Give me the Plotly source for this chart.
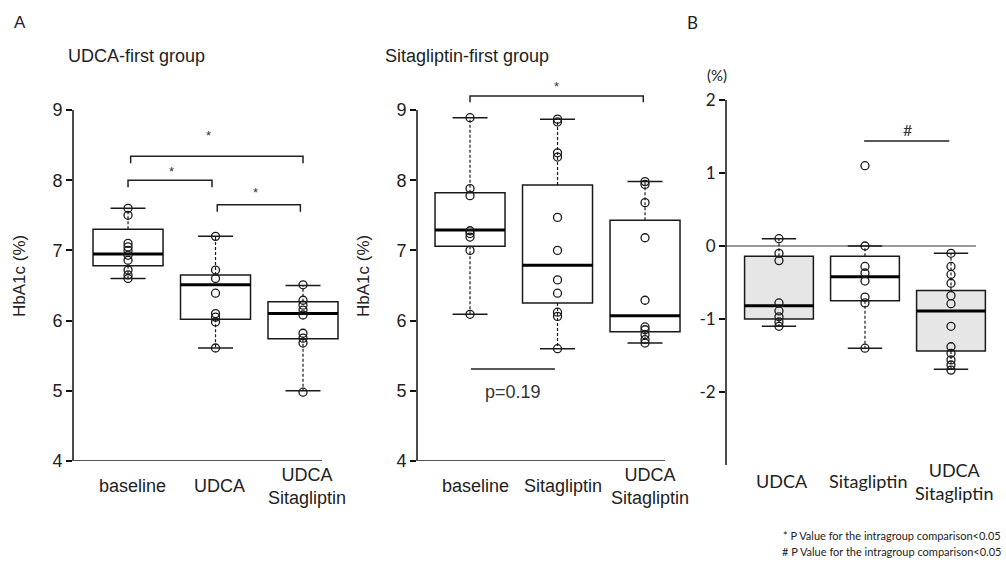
import plotly.graph_objects as go

W, H = 1006, 566

# ---------------- DATA ----------------
# Panel A, UDCA-first group (HbA1c %)
a1_cats = ["baseline", "UDCA", "UDCA<br>Sitagliptin"]
a1_q1 = [6.78, 6.02, 5.74]
a1_med = [6.95, 6.51, 6.10]
a1_q3 = [7.30, 6.65, 6.27]
a1_lo = [6.60, 5.61, 5.00]
a1_hi = [7.60, 7.20, 6.50]
a1_pts = [
    [7.60, 7.50, 7.10, 7.05, 7.00, 6.93, 6.86, 6.72, 6.65, 6.60],
    [7.20, 6.72, 6.60, 6.39, 6.10, 6.05, 5.98, 5.61],
    [6.51, 6.29, 6.22, 6.15, 6.08, 5.82, 5.75, 5.68, 4.98],
]

# Panel A, Sitagliptin-first group (HbA1c %)
a2_cats = ["baseline", "Sitagliptin", "UDCA<br>Sitagliptin"]
a2_q1 = [7.06, 6.25, 5.84]
a2_med = [7.29, 6.79, 6.07]
a2_q3 = [7.82, 7.93, 7.43]
a2_lo = [6.09, 5.60, 5.68]
a2_hi = [8.89, 8.87, 7.98]
a2_pts = [
    [8.89, 7.88, 7.78, 7.28, 7.24, 7.19, 7.00, 6.09],
    [8.87, 8.83, 8.39, 8.33, 7.47, 7.00, 6.58, 6.39, 6.12, 6.06, 5.60],
    [7.98, 7.94, 7.68, 7.18, 6.29, 5.91, 5.87, 5.80, 5.73, 5.68],
]
a_ticks = [4, 5, 6, 7, 8, 9]

# Panel B, change in HbA1c (%)
b_cats = ["UDCA", "Sitagliptin", "UDCA<br>Sitagliptin"]
b_q1 = [-1.00, -0.75, -1.44]
b_med = [-0.82, -0.42, -0.89]
b_q3 = [-0.14, -0.14, -0.61]
b_lo = [-1.10, -1.40, -1.69]
b_hi = [0.10, 0.00, -0.10]
b_pts = [
    [0.10, -0.10, -0.20, -0.78, -0.89, -0.97, -1.04, -1.10],
    [1.10, 0.00, -0.28, -0.37, -0.48, -0.70, -0.78, -1.40],
    [-0.10, -0.28, -0.39, -0.51, -0.68, -0.79, -1.10, -1.38, -1.47, -1.56, -1.63, -1.70],
]
b_fill = ["#e6e6e6", "#ffffff", "#e6e6e6"]
b_ticks = [-2, -1, 0, 1, 2]
b_ticktext = ["-2", "-1", "0", "1", "2"]

# significance annotations: (x0, x1, y, label, label_x, label_y)
a1_sig = [(0.03, 2.0, 8.34, "*", 0.92, 8.63),
          (0.0, 0.96, 8.00, "*", 0.50, 8.12),
          (1.02, 1.97, 7.65, "*", 1.46, 7.82)]
a2_sig = [(0.0, 1.98, 9.20, "*", 0.99, 9.33)]
a2_p = (0.01, 0.97, 5.31, "p=0.19", 0.49, 4.98)
b_sig = (0.99, 1.98, 1.44, "#", 1.49, 1.59)

footnotes = ["* P Value for the intragroup comparison<0.05",
             "# P Value for the intragroup comparison<0.05"]

# ---------------- LAYOUT HELPERS ----------------
def px_x(p):
    return p / W

def px_y(p):
    return (H - p) / H

FONT_A = "Liberation Sans, Arial, sans-serif"
FONT_B = "Lato, Carlito, sans-serif"
INK = "#1a1a1a"

fig = go.Figure()

panels = [
    dict(ax="", cats=a1_cats, q1=a1_q1, med=a1_med, q3=a1_q3, lo=a1_lo, hi=a1_hi, pts=a1_pts,
         fills=["#ffffff"] * 3),
    dict(ax="2", cats=a2_cats, q1=a2_q1, med=a2_med, q3=a2_q3, lo=a2_lo, hi=a2_hi, pts=a2_pts,
         fills=["#ffffff"] * 3),
    dict(ax="3", cats=b_cats, q1=b_q1, med=b_med, q3=b_q3, lo=b_lo, hi=b_hi, pts=b_pts,
         fills=b_fill),
]

for P in panels:
    xa, ya = "x" + P["ax"], "y" + P["ax"]
    for i in range(3):
        fig.add_trace(go.Box(
            x=[i], q1=[P["q1"][i]], median=[P["med"][i]], q3=[P["q3"][i]],
            lowerfence=[P["q1"][i]], upperfence=[P["q3"][i]],
            width=0.8, whiskerwidth=0, boxpoints=False,
            fillcolor=P["fills"][i], line=dict(color=INK, width=1.5),
            xaxis=xa, yaxis=ya, showlegend=False, hoverinfo="skip"))
    # dashed whiskers
    wx, wy = [], []
    for i in range(3):
        wx += [i, i, None, i, i, None]
        wy += [P["q3"][i], P["hi"][i], None, P["q1"][i], P["lo"][i], None]
    fig.add_trace(go.Scatter(x=wx, y=wy, mode="lines",
                             line=dict(color=INK, width=1.2, dash="3px,2px"),
                             xaxis=xa, yaxis=ya, showlegend=False, hoverinfo="skip"))
    # caps
    cx, cy = [], []
    for i in range(3):
        for v in (P["hi"][i], P["lo"][i]):
            cx += [i - 0.2, i + 0.2, None]
            cy += [v, v, None]
    fig.add_trace(go.Scatter(x=cx, y=cy, mode="lines", line=dict(color=INK, width=1.5),
                             xaxis=xa, yaxis=ya, showlegend=False, hoverinfo="skip"))
    # thick medians
    mx, my = [], []
    for i in range(3):
        mx += [i - 0.4, i + 0.4, None]
        my += [P["med"][i], P["med"][i], None]
    fig.add_trace(go.Scatter(x=mx, y=my, mode="lines", line=dict(color="#000", width=3),
                             xaxis=xa, yaxis=ya, showlegend=False, hoverinfo="skip"))
    # points
    px, py = [], []
    for i in range(3):
        px += [i] * len(P["pts"][i])
        py += P["pts"][i]
    fig.add_trace(go.Scatter(x=px, y=py, mode="markers",
                             marker=dict(symbol="circle-open", size=8, color=INK,
                                         line=dict(width=1.3, color=INK)),
                             cliponaxis=False,
                             xaxis=xa, yaxis=ya, showlegend=False, hoverinfo="skip"))


def bracket(x0, x1, y, d, xa, ya, tick=True):
    if tick:
        xs, ys = [x0, x0, x1, x1], [y - d, y, y, y - d]
    else:
        xs, ys = [x0, x1], [y, y]
    fig.add_trace(go.Scatter(x=xs, y=ys, mode="lines", line=dict(color="#222", width=1.5),
                             xaxis=xa, yaxis=ya, showlegend=False, hoverinfo="skip",
                             cliponaxis=False))


annots = []
for (x0, x1, y, lab, lx, ly) in a1_sig:
    bracket(x0, x1, y, 0.1, "x", "y")
    annots.append(dict(x=lx, y=ly, xref="x", yref="y", text=lab, showarrow=False,
                       font=dict(family=FONT_A, size=13, color="#333")))
for (x0, x1, y, lab, lx, ly) in a2_sig:
    bracket(x0, x1, y, 0.09, "x2", "y2")
    annots.append(dict(x=lx, y=ly, xref="x2", yref="y2", text=lab, showarrow=False,
                       font=dict(family=FONT_A, size=13, color="#333")))
x0, x1, y, lab, lx, ly = a2_p
bracket(x0, x1, y, 0, "x2", "y2", tick=False)
annots.append(dict(x=lx, y=ly, xref="x2", yref="y2", text=lab, showarrow=False,
                   font=dict(family=FONT_A, size=18, color="#333")))
x0, x1, y, lab, lx, ly = b_sig
bracket(x0, x1, y, 0, "x3", "y3", tick=False)
annots.append(dict(x=lx, y=ly, xref="x3", yref="y3", text=lab, showarrow=False,
                   font=dict(family=FONT_B, size=16, color="#333")))

# category labels
for ax, cats, fam, ycen, fs, sh in (("x", a1_cats, FONT_A, 486, 18, 4),
                                    ("x2", a2_cats, FONT_A, 486, 18, 5),
                                    ("x3", b_cats, FONT_B, 481, 18, 3)):
    for i, c in enumerate(cats):
        annots.append(dict(x=i, y=px_y(ycen), xref=ax, yref="paper", text=c, showarrow=False,
                           xshift=sh, yanchor="middle",
                           font=dict(family=fam, size=fs, color="#222")))

# titles and labels
annots += [
    dict(x=px_x(12), y=px_y(23), xref="paper", yref="paper", text="A", showarrow=False,
         xanchor="left", yanchor="middle", font=dict(family=FONT_A, size=17, color="#222")),
    dict(x=px_x(685), y=px_y(23), xref="paper", yref="paper", text="B", showarrow=False,
         xanchor="left", yanchor="middle", font=dict(family=FONT_B, size=17, color="#222")),
    dict(x=px_x(66), y=px_y(56), xref="paper", yref="paper", text="UDCA-first group",
         showarrow=False, xanchor="left", yanchor="middle",
         font=dict(family=FONT_A, size=18, color="#222")),
    dict(x=px_x(383), y=px_y(56), xref="paper", yref="paper", text="Sitagliptin-first group",
         showarrow=False, xanchor="left", yanchor="middle",
         font=dict(family=FONT_A, size=18, color="#222")),
    dict(x=px_x(19), y=px_y(276), xref="paper", yref="paper", text="HbA1c (%)",
         showarrow=False, textangle=-90, xanchor="center", yanchor="middle",
         font=dict(family=FONT_A, size=17, color="#222")),
    dict(x=px_x(363), y=px_y(276), xref="paper", yref="paper", text="HbA1c (%)",
         showarrow=False, textangle=-90, xanchor="center", yanchor="middle",
         font=dict(family=FONT_A, size=17, color="#222")),
    dict(x=px_x(717), y=px_y(75), xref="paper", yref="paper", text="(%)",
         showarrow=False, xanchor="center", yanchor="middle",
         font=dict(family=FONT_B, size=15, color="#222")),
]
for k, t in enumerate(footnotes):
    annots.append(dict(x=px_x(1003), y=px_y(535 + 16 * k), xref="paper", yref="paper",
                       text=t, showarrow=False, xanchor="right", yanchor="middle",
                       font=dict(family=FONT_B, size=11, color="#222")))

# axis lines drawn as shapes (so brackets can go above the top tick)
shapes = [
    dict(type="line", xref="x domain", yref="y", x0=0, x1=0, y0=4, y1=9,
         line=dict(color="#111", width=1.5)),
    dict(type="line", xref="x", yref="y", x0=-0.629, x1=2.217, y0=4, y1=4,
         line=dict(color="#555", width=2)),
    dict(type="line", xref="x2 domain", yref="y2", x0=0, x1=0, y0=4, y1=9,
         line=dict(color="#111", width=1.5)),
    dict(type="line", xref="x2", yref="y2", x0=-0.606, x1=2.23, y0=4, y1=4,
         line=dict(color="#555", width=2)),
    dict(type="line", xref="x3 domain", yref="y3", x0=0, x1=0, y0=-3, y1=2,
         line=dict(color="#111", width=1.5)),
    dict(type="line", xref="x3", yref="y3", x0=-0.616, x1=2.29, y0=0, y1=0,
         line=dict(color="#777", width=1.5), layer="below"),
]

yA_dom = [px_y(461), px_y(461 - 5.4 * 70.2)]
yB_dom = [px_y(465), px_y(100)]

common_x = dict(showgrid=False, zeroline=False, showline=False, showticklabels=False,
                ticks="", fixedrange=True, automargin=False)
common_y = dict(showgrid=False, zeroline=False, showline=False, ticks="outside", ticklen=6,
                tickwidth=1.5, tickcolor="#111", fixedrange=True, automargin=False)

fig.update_layout(
    width=W, height=H, margin=dict(l=0, r=0, t=0, b=0, pad=0, autoexpand=False),
    paper_bgcolor="white", plot_bgcolor="rgba(0,0,0,0)",
    xaxis=dict(domain=[px_x(73), px_x(345)], range=[-0.629, 2.48], anchor="y", **common_x),
    yaxis=dict(domain=yA_dom, range=[4, 9.4], anchor="x", tickvals=a_ticks,
               tickfont=dict(family=FONT_A, size=18, color="#222"), **common_y),
    xaxis2=dict(domain=[px_x(417), px_x(690)], range=[-0.606, 2.514], anchor="y2", **common_x),
    yaxis2=dict(domain=yA_dom, range=[4, 9.4], anchor="x2", tickvals=a_ticks,
                tickfont=dict(family=FONT_A, size=18, color="#222"), **common_y),
    xaxis3=dict(domain=[px_x(726), px_x(1000)], range=[-0.616, 2.57], anchor="y3", **common_x),
    yaxis3=dict(domain=yB_dom, range=[-3, 2], anchor="x3", tickvals=b_ticks,
                ticktext=b_ticktext,
                tickfont=dict(family=FONT_B, size=17, color="#222"), **common_y),
    annotations=annots, shapes=shapes,
)

fig.write_html(
    "out.html",
    config={"displayModeBar": False},
    post_script=(
        "document.documentElement.style.margin='0';"
        "document.body.style.margin='0';"
        "document.body.style.overflow='hidden';"
        "var d=document.getElementById('{plot_id}');"
        "d.style.position='fixed';d.style.top='0px';d.style.left='0px';"
    ),
)
